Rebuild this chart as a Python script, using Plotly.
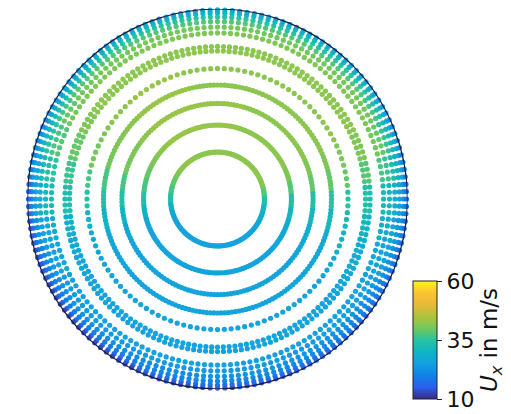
import numpy as np
import plotly.graph_objects as go

# Measurement rings (radius normalised by the pipe radius) and points per ring
ring_radius = [0.247, 0.389, 0.503, 0.600, 0.687, 0.779, 0.803,
               0.874, 0.905, 0.934, 0.958, 0.979, 0.995]
ring_points = [160, 180, 180, 200, 120, 160, 160,
               160, 160, 160, 160, 160, 160]

# Angular sectors (deg, counter-clockwise from the +x direction)
sector_deg = list(range(0, 360, 10))

# Axial velocity U_x in m/s for each ring (rows) and sector (columns)
ux_ring_01 = [34, 38, 41, 42, 42, 42, 42, 42, 42, 42, 42, 42, 42, 43, 42, 41, 39, 37,
              34, 30, 27, 26, 26, 26, 26, 26, 26, 26, 26, 26, 26, 26, 26, 27, 28, 31]
ux_ring_02 = [34, 38, 41, 42, 42, 42, 42, 42, 43, 43, 43, 43, 43, 43, 42, 41, 39, 37,
              34, 30, 27, 26, 26, 26, 26, 26, 26, 26, 26, 26, 26, 26, 26, 27, 28, 31]
ux_ring_03 = [34, 39, 41, 42, 42, 42, 42, 42, 43, 43, 43, 43, 43, 43, 42, 41, 40, 37,
              34, 30, 27, 26, 26, 26, 26, 26, 26, 26, 26, 26, 26, 26, 26, 27, 28, 31]
ux_ring_04 = [35, 39, 41, 42, 42, 42, 42, 42, 42, 42, 42, 43, 43, 43, 42, 41, 40, 37,
              34, 30, 27, 26, 26, 26, 26, 26, 26, 26, 26, 26, 26, 26, 26, 27, 28, 31]
ux_ring_05 = [35, 39, 41, 42, 42, 42, 42, 42, 42, 42, 42, 43, 43, 43, 42, 41, 40, 37,
              34, 30, 27, 26, 26, 26, 26, 26, 26, 26, 26, 26, 26, 26, 26, 27, 29, 32]
ux_ring_06 = [34, 38, 41, 42, 42, 42, 42, 42, 42, 42, 42, 42, 42, 42, 42, 41, 39, 36,
              33, 29, 27, 26, 26, 26, 26, 26, 26, 26, 26, 26, 26, 26, 26, 27, 28, 31]
ux_ring_07 = [33, 38, 41, 42, 42, 42, 42, 42, 42, 42, 42, 42, 42, 42, 42, 41, 39, 36,
              33, 29, 27, 26, 26, 25, 25, 25, 25, 25, 25, 26, 26, 26, 26, 27, 28, 30]
ux_ring_08 = [32, 37, 40, 41, 41, 41, 41, 41, 41, 41, 41, 41, 41, 41, 41, 40, 38, 35,
              32, 28, 26, 25, 25, 25, 25, 25, 25, 25, 25, 25, 25, 25, 25, 26, 27, 29]
ux_ring_09 = [31, 36, 39, 40, 40, 40, 40, 40, 40, 40, 40, 40, 40, 40, 40, 39, 37, 34,
              31, 27, 25, 24, 24, 24, 24, 24, 24, 24, 24, 24, 24, 25, 25, 25, 26, 28]
ux_ring_10 = [29, 33, 36, 37, 38, 38, 38, 38, 38, 38, 38, 38, 38, 38, 38, 37, 35, 32,
              29, 26, 24, 23, 23, 22, 22, 22, 22, 23, 23, 23, 23, 23, 23, 24, 25, 27]
ux_ring_11 = [26, 30, 32, 34, 35, 35, 35, 35, 35, 35, 35, 35, 35, 35, 34, 33, 31, 28,
              25, 23, 21, 20, 20, 20, 20, 21, 21, 21, 21, 21, 22, 22, 22, 22, 23, 24]
ux_ring_12 = [23, 26, 28, 29, 31, 31, 31, 31, 31, 31, 31, 31, 31, 31, 30, 29, 27, 25,
              22, 20, 18, 17, 17, 17, 17, 18, 18, 18, 18, 19, 19, 19, 19, 20, 21, 22]
ux_ring_13 = [19, 21, 23, 25, 26, 27, 27, 27, 27, 27, 27, 27, 27, 26, 25, 24, 22, 20,
              17, 15, 14, 13, 13, 13, 13, 14, 14, 15, 15, 15, 16, 16, 16, 17, 17, 18]

ux_table = [ux_ring_01, ux_ring_02, ux_ring_03, ux_ring_04, ux_ring_05, ux_ring_06,
            ux_ring_07, ux_ring_08, ux_ring_09, ux_ring_10, ux_ring_11, ux_ring_12,
            ux_ring_13]

colorbar_ticks = [10, 35, 60]

# Bright parula-style colour map (blue -> teal -> green -> orange -> yellow)
cmap_rgb = [
    (52, 42, 135), (45, 95, 235), (15, 130, 230), (20, 160, 225),
    (15, 180, 195), (40, 195, 160), (115, 200, 90), (175, 195, 60),
    (230, 185, 55), (252, 195, 50), (250, 245, 20),
]
colorscale = [[i / (len(cmap_rgb) - 1), "rgb({},{},{})".format(*c)]
              for i, c in enumerate(cmap_rgb)]

# Place every measurement point on its ring
xs, ys, vals = [], [], []
sector_step = sector_deg[1] - sector_deg[0]
for r, n, row in zip(ring_radius, ring_points, ux_table):
    theta = np.arange(n) * 360.0 / n
    idx = np.round(theta / sector_step).astype(int) % len(sector_deg)
    xs.append(r * np.cos(np.radians(theta)))
    ys.append(r * np.sin(np.radians(theta)))
    vals.append(np.array(row)[idx])
xs = np.concatenate(xs)
ys = np.concatenate(ys)
vals = np.concatenate(vals)

font_family = "DejaVu Sans, Arial, sans-serif"

fig = go.Figure()
fig.add_trace(go.Scatter(
    x=xs, y=ys, mode="markers", cliponaxis=False, hoverinfo="skip",
    marker=dict(
        size=5.2, color=vals, colorscale=colorscale, cmin=10, cmax=60,
        line=dict(width=0),
        colorbar=dict(
            x=413 / 511, xanchor="left", xpad=0,
            y=15 / 414, yanchor="bottom", ypad=0,
            len=118, lenmode="pixels",
            thickness=24, thicknessmode="pixels",
            outlinewidth=1, outlinecolor="#222",
            tickvals=colorbar_ticks, ticktext=[str(t) for t in colorbar_ticks],
            ticks="outside", ticklen=5, tickwidth=1, tickcolor="#222",
            ticklabeloverflow="allow",
            tickfont=dict(size=22, family=font_family, color="#111"),
            title=dict(text="<i>U</i><sub><i>x</i></sub> in m/s", side="right",
                       font=dict(size=23, family=font_family, color="#111")),
        ),
    ),
    showlegend=False,
))

# Pipe wall
fig.add_shape(type="circle", xref="x", yref="y", x0=-1, y0=-1, x1=1, y1=1,
              line=dict(color="#1c1c3c", width=1.2))

fig.update_layout(
    width=511, height=414,
    margin=dict(l=0, r=0, t=0, b=0),
    paper_bgcolor="white", plot_bgcolor="white",
    xaxis=dict(range=[-1, 1], domain=[27.5 / 511, 407.5 / 511], visible=False),
    yaxis=dict(range=[-1, 1], domain=[25 / 414, 405 / 414], visible=False),
)

fig.write_html("out.html")
